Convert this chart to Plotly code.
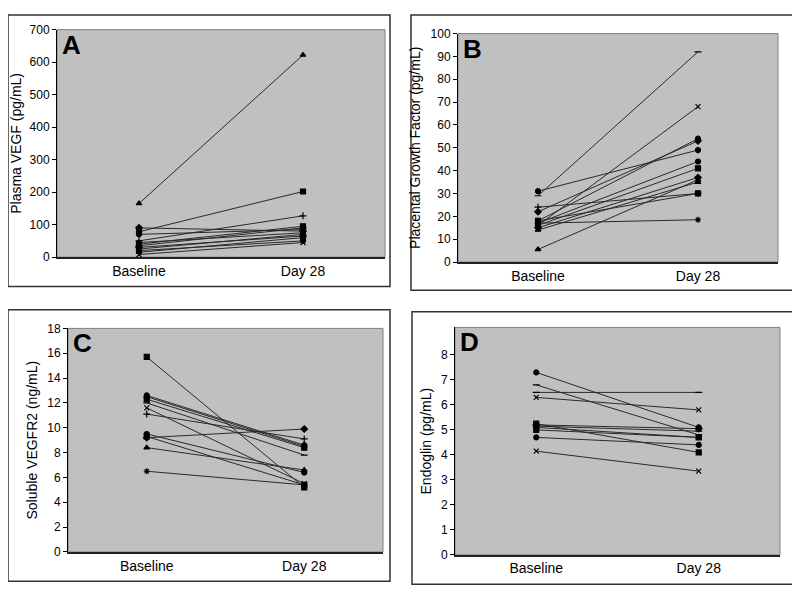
import plotly.graph_objects as go

# categories on every panel
timepoints = ["Baseline", "Day 28"]

# A: plasma VEGF (pg/mL)
vegf_baseline = [165, 78, 50, 90, 40, 70, 35, 45, 25, 30, 15, 20, 8]
vegf_day28 = [622, 202, 127, 80, 95, 85, 90, 75, 70, 65, 60, 50, 45]
vegf_ticks = [0, 100, 200, 300, 400, 500, 600, 700]

# B: placental growth factor (pg/mL)
plgf_baseline = [29, 16, 31, 24, 22, 18, 17, 16, 15, 14, 18, 17, 5.5]
plgf_day28 = [92, 68, 49, 30, 53, 54, 44, 41, 37, 35, 30, 18.5, 36]
plgf_ticks = [0, 10, 20, 30, 40, 50, 60, 70, 80, 90, 100]

# C: soluble VEGFR2 (ng/mL)
svegfr2_baseline = [15.7, 12.6, 12.5, 12.3, 12.0, 11.6, 11.1, 9.5, 9.2, 9.3, 8.4, 6.5]
svegfr2_day28 = [5.2, 8.6, 8.5, 8.4, 7.8, 5.5, 9.1, 6.4, 9.9, 5.4, 6.6, 5.4]
svegfr2_ticks = [0, 2, 4, 6, 8, 10, 12, 14, 16, 18]

# D: endoglin (pg/mL)
endoglin_baseline = [7.3, 6.8, 6.5, 6.3, 5.25, 5.2, 5.15, 5.1, 5.0, 4.7, 4.15]
endoglin_day28 = [5.1, 4.8, 6.5, 5.8, 4.1, 5.05, 4.95, 4.7, 4.7, 4.4, 3.35]
endoglin_ticks = [0, 1, 2, 3, 4, 5, 6, 7, 8]

panels = [
    ("A", "Plasma VEGF (pg/mL)", vegf_baseline, vegf_day28, [0, 700], vegf_ticks),
    ("B", "Placental Growth Factor (pg/mL)", plgf_baseline, plgf_day28, [0, 100], plgf_ticks),
    ("C", "Soluble VEGFR2 (ng/mL)", svegfr2_baseline, svegfr2_day28, [0, 18], svegfr2_ticks),
    ("D", "Endoglin (pg/mL)", endoglin_baseline, endoglin_day28, [0, 9.1], endoglin_ticks),
]

# marker shapes per panel, one per subject line
symbols = {
    "A": ["triangle-up", "square", "cross-thin", "diamond", "square", "circle",
          "line-ew", "asterisk", "square", "diamond", "triangle-up", "circle", "x-thin"],
    "B": ["line-ew", "x-thin", "circle", "cross-thin", "diamond", "circle", "circle",
          "square", "diamond", "triangle-up", "square", "asterisk", "triangle-up"],
    "C": ["square", "circle", "triangle-up", "square", "line-ew", "x-thin", "cross-thin",
          "circle", "diamond", "square", "triangle-up", "asterisk"],
    "D": ["circle", "line-ew", "line-ew", "x-thin", "square", "diamond", "line-ew",
          "triangle-up", "square", "circle", "x-thin"],
}

# the page body has an 8px margin, so the figure is shifted by that much
OFF = 8
W, H = 800 - OFF, 599 - OFF
# plot areas and outer frames in window pixels: (left, top, right, bottom)
plot_px = [(57, 23, 385, 256), (458, 27, 778, 261), (68, 329, 383, 558), (455, 328, 780, 561)]
frame_px = [(7, 8, 390, 286), (411, 6, 793, 290), (3, 310, 390, 588), (412, 312, 796, 591)]


def fx(px):
    return max(0.0, min(1.0, (px - OFF) / W))


def fy(py):
    return max(0.0, min(1.0, 1 - (py - OFF) / H))


fig = go.Figure()
font = "Liberation Sans, Arial, sans-serif"

for i, (letter, title, base, day, yrange, ticks) in enumerate(panels):
    n = "" if i == 0 else str(i + 1)
    for j, (b, d) in enumerate(zip(base, day)):
        fig.add_trace(go.Scatter(
            x=timepoints, y=[b, d], mode="lines+markers",
            xaxis="x" + n, yaxis="y" + n, showlegend=False,
            line=dict(color="#2a2a2a", width=1),
            marker=dict(symbol=symbols[letter][j], size=5, color="black",
                        line=dict(color="black", width=1.2)),
        ))
    l, t, r, btm = plot_px[i]
    fig.update_layout(**{
        "xaxis" + n: dict(
            domain=[fx(l), fx(r)], anchor="y" + n, type="category",
            range=[-0.5, 1.5], showline=True, linecolor="#222222", linewidth=1.5,
            ticks="", showgrid=False,
            tickfont=dict(size=14, color="black", family=font),
        ),
        "yaxis" + n: dict(
            domain=[fy(btm), fy(t)], anchor="x" + n,
            range=yrange, tickmode="array", tickvals=ticks,
            showline=True, linecolor="black", linewidth=1,
            ticks="outside", ticklen=4, tickcolor="black", showgrid=False,
            zeroline=False, tickfont=dict(size=12, color="black", family=font),
            title=dict(text=title, font=dict(size=14, color="black", family=font), standoff=6),
        ),
    })
    # gray border around plot area
    fig.add_shape(type="rect", xref="x" + n + " domain", yref="y" + n + " domain",
                  x0=0, x1=1, y0=0, y1=1, line=dict(color="#808080", width=1), layer="below")
    # outer frame of the panel
    fl, ft, fr, fb = frame_px[i]
    fig.add_shape(type="rect", xref="paper", yref="paper",
                  x0=fx(fl), x1=fx(fr), y0=fy(fb), y1=fy(ft),
                  line=dict(color="#333333", width=1.5), layer="below")
    fig.add_annotation(text="<b>%s</b>" % letter, xref="x" + n + " domain", yref="y" + n + " domain",
                       x=0.0, y=1.0, xanchor="left", yanchor="top", xshift=3, yshift=2,
                       showarrow=False, font=dict(size=26, color="black", family=font))

fig.update_layout(
    width=W, height=H, margin=dict(l=0, r=0, t=0, b=0),
    paper_bgcolor="white", plot_bgcolor="#c0c0c0",
)

fig.write_html("out.html")
